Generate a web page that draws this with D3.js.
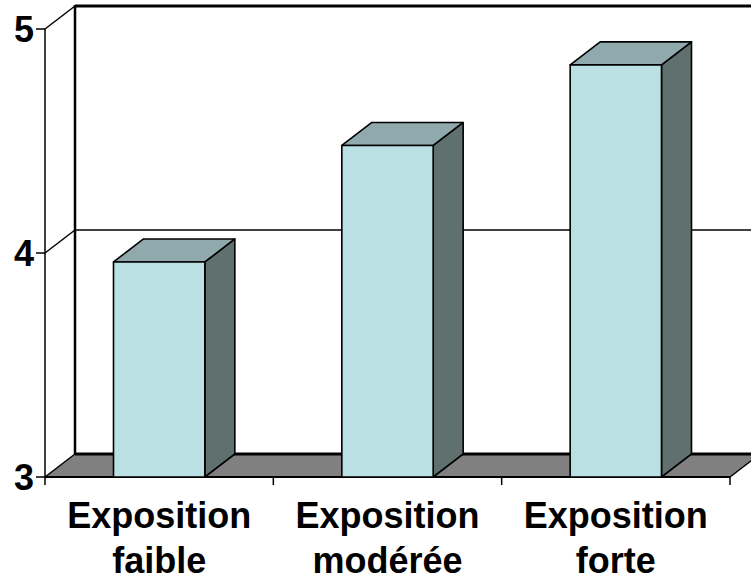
<!DOCTYPE html>
<html>
<head>
<meta charset="utf-8">
<script src="https://cdn.jsdelivr.net/npm/d3@7"></script>
<style>
  html, body { margin: 0; padding: 0; background: #fff; }
  svg { display: block; }
</style>
</head>
<body>
<svg id="chart" width="751" height="581"></svg>
<script>
// ---- data ----
const categories = [["Exposition", "faible"], ["Exposition", "modérée"], ["Exposition", "forte"]];
const values = [3.96, 4.48, 4.84];
const yTicks = [3, 4, 5];

// ---- layout ----
const plotL = 45, plotR = 730, plotT = 29, plotB = 477;
const dx = 30, dy = -23;       // depth offset
const barFrac = 0.4;

const svg = d3.select("#chart");
const y = d3.scaleLinear().domain([3, 5]).range([plotB, plotT]);
const x = d3.scaleBand().domain(d3.range(categories.length)).range([plotL, plotR]).padding(0);

const colFront = "#BBE0E3", colTop = "#8FA9AC", colSide = "#5F706E", colFloor = "#808080";

// back wall gridlines
const g = svg.append("g");
yTicks.forEach(t => {
  if (t === 3) return;
  g.append("line").attr("x1", plotL + dx).attr("x2", plotR + dx + 20)
    .attr("y1", y(t) + dy).attr("y2", y(t) + dy)
    .attr("stroke", "#000").attr("stroke-width", t === 5 ? 3 : 1.5);
  g.append("line").attr("x1", plotL).attr("y1", y(t)).attr("x2", plotL + dx).attr("y2", y(t) + dy)
    .attr("stroke", "#000").attr("stroke-width", 1.5);
});
g.append("line").attr("x1", plotL + dx).attr("x2", plotL + dx)
  .attr("y1", y(5) + dy - 1).attr("y2", y(3) + dy)
  .attr("stroke", "#000").attr("stroke-width", 2.5);

// floor
const floorPts = [[plotL, y(3)], [plotR, y(3)], [plotR + dx, y(3) + dy], [plotL + dx, y(3) + dy]];
g.append("polygon").attr("points", floorPts.map(p => p.join(",")).join(" "))
  .attr("fill", colFloor).attr("stroke", "#000").attr("stroke-width", 1.5).attr("stroke-linejoin", "round");
g.append("line").attr("x1", plotL + dx).attr("x2", plotR + dx)
  .attr("y1", y(3) + dy).attr("y2", y(3) + dy).attr("stroke", "#000").attr("stroke-width", 3);
g.append("line").attr("x1", plotL).attr("x2", plotR)
  .attr("y1", y(3)).attr("y2", y(3)).attr("stroke", "#000").attr("stroke-width", 2);

// front y axis line
g.append("line").attr("x1", plotL).attr("x2", plotL).attr("y1", y(5)).attr("y2", y(3))
  .attr("stroke", "#000").attr("stroke-width", 1.5);

// bars
const bars = svg.append("g");
values.forEach((v, i) => {
  const bw = x.bandwidth() * barFrac;
  const x0 = x(i) + (x.bandwidth() - bw) / 2, x1 = x0 + bw;
  const yt = y(v), yb = y(3);
  const poly = (pts, fill) => bars.append("polygon")
    .attr("points", pts.map(p => p.join(",")).join(" "))
    .attr("fill", fill).attr("stroke", "#000").attr("stroke-width", 1.6).attr("stroke-linejoin", "round");
  poly([[x1, yt], [x1 + dx, yt + dy], [x1 + dx, yb + dy], [x1, yb]], colSide);
  poly([[x0, yt], [x0 + dx, yt + dy], [x1 + dx, yt + dy], [x1, yt]], colTop);
  poly([[x0, yt], [x1, yt], [x1, yb], [x0, yb]], colFront);
});

// y ticks & labels
const ax = svg.append("g");
yTicks.forEach(t => {
  ax.append("line").attr("x1", plotL - 9).attr("x2", plotL).attr("y1", y(t)).attr("y2", y(t))
    .attr("stroke", "#000").attr("stroke-width", 1.5);
  ax.append("text").attr("x", plotL - 11).attr("y", y(t) + 13)
    .attr("text-anchor", "end").attr("font-family", "Liberation Sans, Arial, sans-serif")
    .attr("font-weight", "bold").attr("font-size", 36).attr("fill", "#000").text(t);
});

// x ticks
const xTickPos = x.domain().map(d => x(d)).concat([plotR]);
xTickPos.forEach(px => {
  ax.append("line").attr("x1", px).attr("x2", px).attr("y1", y(3)).attr("y2", y(3) + 8)
    .attr("stroke", "#000").attr("stroke-width", 1.5);
});

// category labels
categories.forEach((lines, i) => {
  const cx = x(i) + x.bandwidth() / 2;
  const t = ax.append("text").attr("text-anchor", "middle")
    .attr("font-family", "Liberation Sans, Arial, sans-serif")
    .attr("font-weight", "bold").attr("font-size", 36).attr("fill", "#000");
  lines.forEach((ln, k) => {
    t.append("tspan").attr("x", cx).attr("y", 528 + k * 45).text(ln);
  });
});
</script>
</body>
</html>
